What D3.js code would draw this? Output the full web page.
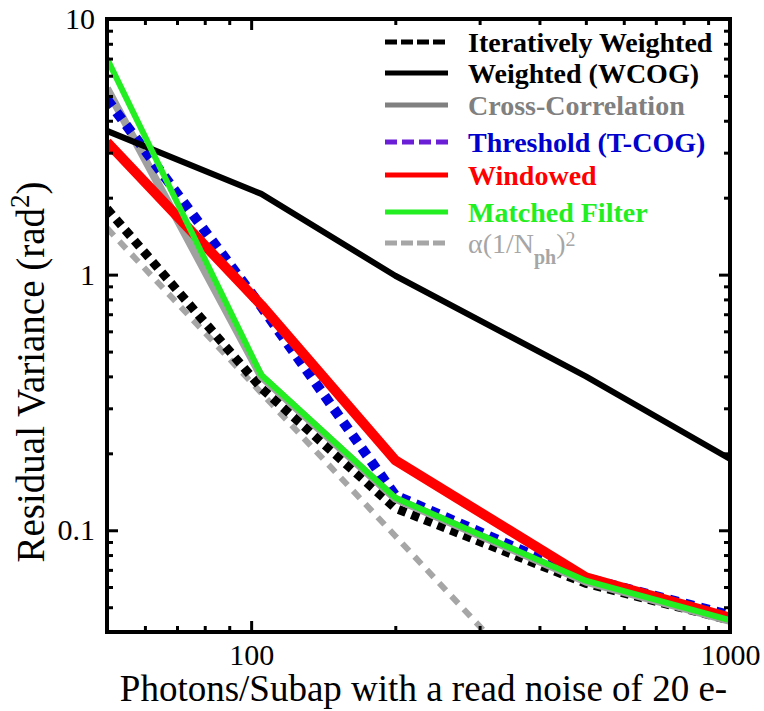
<!DOCTYPE html>
<html><head><meta charset="utf-8">
<script src="https://cdn.jsdelivr.net/npm/d3@7"></script>
<style>
html,body{margin:0;padding:0;background:#fff;}
svg{display:block;}
svg text{font-family:"Liberation Serif","DejaVu Serif","Times New Roman",serif;}
</style></head>
<body>
<svg id="chart" width="764" height="711"></svg>
<script>
// ---- data ----
const photons = [50, 105, 200, 500, 1000];
const iterWeighted = [1.81, 0.36, 0.122, 0.062, 0.0445];
const wcog = [3.65, 2.07, 0.99, 0.40, 0.19];
const crossCorr = [5.35, 0.40, 0.133, 0.063, 0.0442];
const threshold = [4.85, 0.75, 0.137, 0.065, 0.0465];
const windowed = [3.3, 0.76, 0.188, 0.0655, 0.0455];
const matched = [7.0, 0.405, 0.134, 0.0635, 0.0445];
const alphaPhotons = [50, 100, 200, 320];
const alphaValues = [1.52, 0.38, 0.095, 0.037];
const xMajorTicks = [100, 1000];
const xMinorTicks = [60, 70, 80, 90, 200, 300, 400, 500, 600, 700, 800, 900];
const yMajorTicks = [0.1, 1, 10];
const yMinorTicks = [0.05, 0.06, 0.07, 0.08, 0.09, 0.2, 0.3, 0.4, 0.5, 0.6, 0.7, 0.8, 0.9, 2, 3, 4, 5, 6, 7, 8, 9];
const legendLabels = ["Iteratively Weighted", "Weighted (WCOG)", "Cross-Correlation", "Threshold (T-COG)", "Windowed", "Matched Filter", "alpha"];

// ---- layout ----
const svg = d3.select("#chart");
const L = 107, R = 730, T = 19, B = 632;
const x = d3.scaleLog().domain([50, 1000]).range([L, R]);
const y = d3.scaleLog().domain([0.04, 10]).range([B, T]);
const serif = '"Liberation Serif","DejaVu Serif","Times New Roman",serif';

svg.append("defs").append("clipPath").attr("id", "plotclip")
  .append("rect").attr("x", L).attr("y", T).attr("width", R - L).attr("height", B - T);

const series = [
  {name: legendLabels[6], xs: alphaPhotons, ys: alphaValues, color: "#a6a6a6", w: 6, dash: "10,8", lw: 5, ldash: "12,4", tcolor: "#a6a6a6"},
  {name: legendLabels[0], xs: photons, ys: iterWeighted, color: "#000000", w: 9, dash: "8,6", lw: 5, ldash: "12,4", tcolor: "#000000"},
  {name: legendLabels[2], xs: photons, ys: crossCorr, color: "#a0a0a0", w: 8, dash: null, lw: 5, ldash: null, tcolor: "#808080", lcolor: "#808080"},
  {name: legendLabels[3], xs: photons, ys: threshold, color: "#0000dd", w: 10, dash: "9,7", lw: 5, ldash: "12,5", tcolor: "#0000cc", lcolor: "#6a1fd6"},
  {name: legendLabels[1], xs: photons, ys: wcog, color: "#000000", w: 6, dash: null, lw: 5, ldash: null, tcolor: "#000000"},
  {name: legendLabels[4], xs: photons, ys: windowed, color: "#ff0000", w: 10, dash: null, lw: 5, ldash: null, tcolor: "#ff0000"},
  {name: legendLabels[5], xs: photons, ys: matched, color: "#22ee22", w: 6, dash: null, lw: 5, ldash: null, tcolor: "#22ee22"}
];

const line = d3.line().x(d => x(d[0])).y(d => y(d[1]));
const gLines = svg.append("g").attr("clip-path", "url(#plotclip)");
series.forEach(s => {
  gLines.append("path")
    .datum(s.xs.map((v, i) => [v, s.ys[i]]))
    .attr("d", line)
    .attr("fill", "none")
    .attr("stroke", s.color)
    .attr("stroke-width", s.w)
    .attr("stroke-dasharray", s.dash)
    .attr("stroke-linejoin", "round");
});

// ---- axes ----
function styleAxis(g) {
  g.attr("font-family", null);
  g.select(".domain").remove();
  g.selectAll(".tick line").attr("stroke", "#000").attr("stroke-width", 3);
  g.selectAll(".tick text").style("font-family", serif).attr("font-size", 30).attr("fill", "#000");
}
// bottom
svg.append("g").attr("transform", `translate(0,${B})`)
  .call(d3.axisBottom(x).tickValues(xMajorTicks).tickSize(-11).tickPadding(12).tickFormat(d3.format("d")))
  .call(styleAxis);
svg.append("g").attr("transform", `translate(0,${B})`)
  .call(d3.axisBottom(x).tickValues(xMinorTicks).tickSize(-6).tickFormat(""))
  .call(styleAxis);
// top
svg.append("g").attr("transform", `translate(0,${T})`)
  .call(d3.axisTop(x).tickValues(xMajorTicks).tickSize(-11).tickFormat(""))
  .call(styleAxis);
svg.append("g").attr("transform", `translate(0,${T})`)
  .call(d3.axisTop(x).tickValues(xMinorTicks).tickSize(-6).tickFormat(""))
  .call(styleAxis);
// left
svg.append("g").attr("transform", `translate(${L},0)`)
  .call(d3.axisLeft(y).tickValues(yMajorTicks).tickSize(-11).tickPadding(12).tickFormat(d => d >= 1 ? d3.format("d")(d) : d3.format(".1f")(d)))
  .call(styleAxis);
svg.append("g").attr("transform", `translate(${L},0)`)
  .call(d3.axisLeft(y).tickValues(yMinorTicks).tickSize(-6).tickFormat(""))
  .call(styleAxis);
// right
svg.append("g").attr("transform", `translate(${R},0)`)
  .call(d3.axisRight(y).tickValues(yMajorTicks).tickSize(-11).tickFormat(""))
  .call(styleAxis);
svg.append("g").attr("transform", `translate(${R},0)`)
  .call(d3.axisRight(y).tickValues(yMinorTicks).tickSize(-6).tickFormat(""))
  .call(styleAxis);

// frame
svg.append("rect").attr("x", L).attr("y", T).attr("width", R - L).attr("height", B - T)
  .attr("fill", "none").attr("stroke", "#000").attr("stroke-width", 4);

// ---- axis titles ----
svg.append("text").attr("x", (L + R) / 2 + 5).attr("y", 701)
  .attr("text-anchor", "middle").style("font-family", serif).attr("font-size", 37)
  .text("Photons/Subap with a read noise of 20 e-");

const yt = svg.append("text").attr("transform", "translate(44,372) rotate(-90)")
  .attr("text-anchor", "middle").style("font-family", serif).attr("font-size", 39);
yt.append("tspan").text("Residual Variance (rad");
yt.append("tspan").attr("baseline-shift", "super").attr("font-size", 27).text("2");
yt.append("tspan").text(")");

// ---- legend ----
const legendOrder = [1, 4, 2, 3, 5, 6, 0];
const legendY = [42, 73, 105, 142, 175, 212, 243];
const gLeg = svg.append("g");
legendOrder.forEach((si, i) => {
  const s = series[si];
  const ly = legendY[i];
  gLeg.append("line").attr("x1", 385).attr("x2", 448).attr("y1", ly).attr("y2", ly)
    .attr("stroke", s.lcolor || s.color).attr("stroke-width", s.lw)
    .attr("stroke-dasharray", s.ldash);
  const t = gLeg.append("text").attr("x", 468).attr("y", ly + 10)
    .style("font-family", serif).attr("font-weight", "bold").attr("font-size", 28)
    .attr("fill", s.tcolor);
  if (s.name === "alpha") {
    t.attr("font-weight", "normal");
    t.append("tspan").text("\u03b1(1/N");
    t.append("tspan").attr("baseline-shift", "sub").attr("font-size", 20).attr("font-weight", "bold").text("ph");
    t.append("tspan").text(")");
    t.append("tspan").attr("baseline-shift", "35%").attr("font-size", 20).text("2");
  } else {
    t.text(s.name);
  }
});
</script>
</body></html>
